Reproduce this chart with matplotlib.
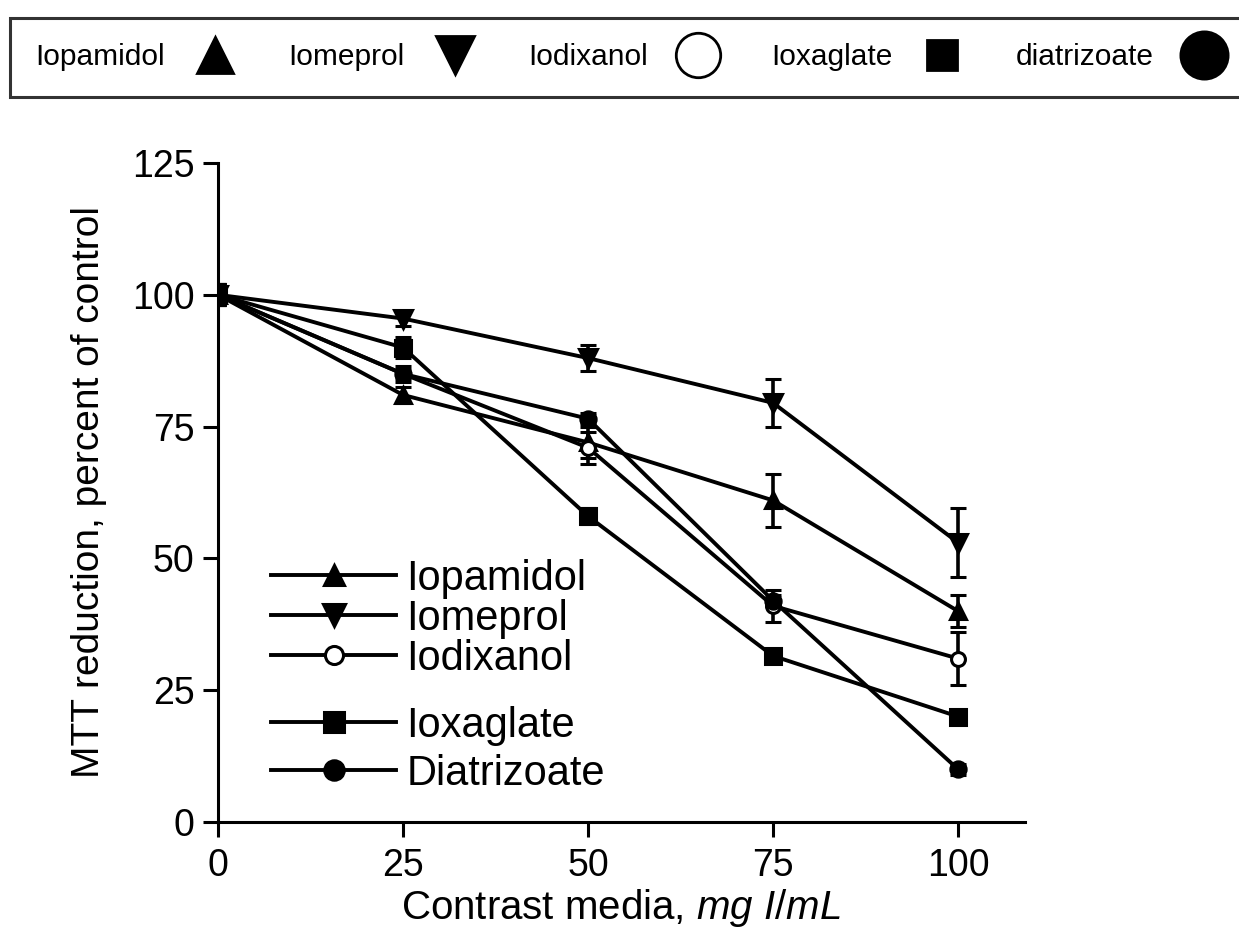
import matplotlib
matplotlib.use("Agg")
import matplotlib.pyplot as plt
from matplotlib.lines import Line2D
import numpy as np

plt.rcParams['font.family'] = ['Liberation Sans', 'DejaVu Sans']
plt.rcParams['mathtext.fontset'] = 'custom'
plt.rcParams['mathtext.rm'] = 'Liberation Sans'
plt.rcParams['mathtext.it'] = 'Liberation Sans:italic'

# data
conc = [0, 25, 50, 75, 100]
names = ["Iopamidol", "Iomeprol", "Iodixanol", "Ioxaglate", "Diatrizoate"]
iopamidol = [100, 81, 72, 61, 40]
iomeprol = [100, 95.5, 88, 79.5, 53]
iodixanol = [100, 85, 71, 41, 31]
ioxaglate = [100, 90, 58, 31.5, 20]
diatrizoate = [100, 85, 76.5, 42, 10]
err_iopamidol = [2, 1.5, 3, 5, 3]
err_iomeprol = [2, 1.5, 2.5, 4.5, 6.5]
err_iodixanol = [2, 1.5, 3, 3, 5]
err_ioxaglate = [2, 2, 1.5, 1, 1]
err_diatrizoate = [2, 1, 1, 1, 1]

top_labels = ["Iopamidol", "Iomeprol", "Iodixanol", "Ioxaglate", "diatrizoate"]

series = [iopamidol, iomeprol, iodixanol, ioxaglate, diatrizoate]
errs = [err_iopamidol, err_iomeprol, err_iodixanol, err_ioxaglate, err_diatrizoate]
markers = ["^", "v", "o", "s", "o"]
faces = ["black", "black", "white", "black", "black"]
msizes = [12, 13, 10, 11, 11]

fig = plt.figure(figsize=(12.39, 9.38), dpi=100)
ax = fig.add_axes([0.176, 0.1237, 0.651, 0.7025])

handles = []
for y, e, m, fc, ms in zip(series, errs, markers, faces, msizes):
    ax.errorbar(conc, y, yerr=e, color="black", lw=2.8, capsize=6, capthick=2.6,
                elinewidth=2.6, marker=m, ms=ms, mfc=fc, mec="black", mew=2.2)
    handles.append(Line2D([], [], color="black", lw=2.8, marker=m, ms=ms + 3,
                          mfc=fc, mec="black", mew=2.2))

ax.set_xlim(0, 109)
ax.set_ylim(0, 125)
ax.set_xticks([0, 25, 50, 75, 100])
ax.set_yticks([0, 25, 50, 75, 100, 125])
for s in ["top", "right"]:
    ax.spines[s].set_visible(False)
for s in ["left", "bottom"]:
    ax.spines[s].set_linewidth(2.2)
ax.tick_params(direction="out", length=11, width=2.2, labelsize=27)
ax.tick_params(axis="y", pad=6)
ax.tick_params(axis="x", pad=8)
ax.set_xlabel(r"Contrast media, $\mathit{mg\ I/mL}$", fontsize=29, labelpad=2)
ax.set_ylabel("MTT reduction, percent of control", fontsize=28, labelpad=18)

leg1 = ax.legend(handles[:3], names[:3], loc="upper left", bbox_to_anchor=(0.045, 0.425),
                 frameon=False, fontsize=30, handlelength=3.0, handletextpad=0.25,
                 labelspacing=0.0, borderaxespad=0)
ax.add_artist(leg1)
ax.legend(handles[3:], names[3:], loc="upper left", bbox_to_anchor=(0.045, 0.202),
          frameon=False, fontsize=30, handlelength=3.0, handletextpad=0.25,
          labelspacing=0.2, borderaxespad=0)

# top key box
top_handles = []
for m, fc, ms in zip(markers, faces, [26, 28, 32, 21, 34]):
    top_handles.append(Line2D([], [], ls="none", marker=m, ms=ms, mfc=fc,
                              mec="black", mew=2))
top = fig.legend(top_handles, top_labels, ncol=5, loc="upper left",
                 bbox_to_anchor=(0.008, 0.981),
                 markerfirst=False, fontsize=21.5, handlelength=1.5,
                 handletextpad=0.93, columnspacing=1.7, fancybox=False,
                 edgecolor="black", borderpad=0.85, borderaxespad=0)
top.get_frame().set_linewidth(2.2)

fig.savefig("out.png", dpi=100)
